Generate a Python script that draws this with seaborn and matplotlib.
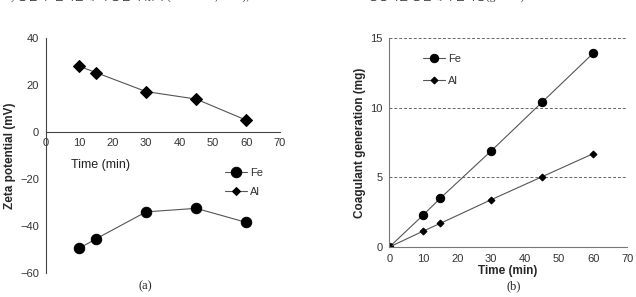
import matplotlib
matplotlib.use('Agg')
import matplotlib.pyplot as plt
import seaborn as sns
import numpy as np

# (a) zeta potential
zeta_time = [10, 15, 30, 45, 60]
zeta_fe = [-49.5, -45.5, -34, -32.5, -38.5]
zeta_al = [28, 25.3, 17.2, 14, 5]

# (b) coagulant generation
gen_time = [0, 10, 15, 30, 45, 60]
gen_fe = [0, 2.3, 3.5, 6.9, 10.4, 13.9]
gen_al = [0, 1.15, 1.7, 3.4, 5.05, 6.7]

sns.set_theme(style='white')
plt.rcParams['font.family'] = ['Liberation Sans', 'Noto Sans CJK KR', 'DejaVu Sans']

fig = plt.figure(figsize=(6.36, 2.97), dpi=100)
ax1 = fig.add_axes([0.072, 0.081, 0.368, 0.791])
ax2 = fig.add_axes([0.612, 0.168, 0.374, 0.704])

lc = '#555555'

# ---- panel (a)
sns.lineplot(x=zeta_time, y=zeta_fe, ax=ax1, color=lc, lw=0.8, marker='o',
             markersize=7.5, markerfacecolor='black', markeredgecolor='black', label='Fe')
sns.lineplot(x=zeta_time, y=zeta_al, ax=ax1, color=lc, lw=0.8, marker='D',
             markersize=6.5, markerfacecolor='black', markeredgecolor='black', label='Al')
ax1.set_xlim(0, 70)
ax1.set_ylim(-60, 40)
ax1.set_xticks(np.arange(0, 71, 10))
ax1.set_yticks(np.arange(-60, 41, 20))
ax1.set_yticklabels(['\u221260', '\u221240', '\u221220', '0', '20', '40'])
for s in ['top', 'right']:
    ax1.spines[s].set_visible(False)
ax1.spines['bottom'].set_position(('data', 0))
for s in ['left', 'bottom']:
    ax1.spines[s].set_color('#444444')
    ax1.spines[s].set_linewidth(0.8)
ax1.tick_params(axis='both', labelsize=8, colors='#333333', length=3, width=0.7,
                direction='out', pad=2)
ax1.tick_params(axis='x', direction='inout', length=4)
ax1.set_ylabel('Zeta potential (mV)', fontsize=8.5, fontweight='bold', labelpad=3)
ax1.text(7.5, -14, 'Time (min)', fontsize=9, color='#222222', va='center')
leg1 = ax1.legend(loc='upper left', bbox_to_anchor=(0.765, 0.448), frameon=False,
                  fontsize=8, handlelength=2.0, labelspacing=0.85, borderaxespad=0,
                  borderpad=0, handletextpad=0.3)
leg1.legend_handles[1].set_markersize(4)
for t in leg1.get_texts():
    t.set_color('#333333')

# ---- panel (b)
for y in [5, 10, 15]:
    ax2.axhline(y, color='#666666', lw=0.7, ls=(0, (3, 2)), zorder=0)
sns.lineplot(x=gen_time, y=gen_fe, ax=ax2, color=lc, lw=0.8, marker='o',
             markersize=6, markerfacecolor='black', markeredgecolor='black', label='Fe')
sns.lineplot(x=gen_time, y=gen_al, ax=ax2, color=lc, lw=0.8, marker='D',
             markersize=3.5, markerfacecolor='black', markeredgecolor='black', label='Al')
ax2.set_xlim(0, 70)
ax2.set_ylim(0, 15)
ax2.set_xticks(np.arange(0, 71, 10))
ax2.set_yticks([0, 5, 10, 15])
for s in ['top', 'right']:
    ax2.spines[s].set_visible(False)
for s in ['left', 'bottom']:
    ax2.spines[s].set_color('#777777')
    ax2.spines[s].set_linewidth(0.8)
ax2.tick_params(axis='both', labelsize=8, colors='#333333', length=3, width=0.7,
                direction='out', pad=2)
ax2.set_xlabel('Time (min)', fontsize=8.5, fontweight='bold', labelpad=1)
ax2.set_ylabel('Coagulant generation (mg)', fontsize=8.5, fontweight='bold', labelpad=3)
leg2 = ax2.legend(loc='upper left', bbox_to_anchor=(0.14, 0.925), frameon=False,
                  fontsize=8, handlelength=2.0, labelspacing=1.1, borderaxespad=0,
                  borderpad=0, handletextpad=0.3)
for t in leg2.get_texts():
    t.set_color('#333333')

# captions
fig.text(0.228, 0.025, '(a)', fontsize=9, family='Liberation Serif', ha='center')
fig.text(0.807, 0.025, '(b)', fontsize=9, family='Liberation Serif', ha='center')

# clipped running text from the page above
fig.text(0.0, 1.012, '34) 응집 후 전기분해 시 응집이 있다 (Kim et al., 2010),', fontsize=8,
         color='#333333', va='center', family=['Liberation Serif', 'Noto Sans CJK KR'])
fig.text(0.545, 1.012, 'M    생성되는 응집제의 분자량(g/mole)', fontsize=8,
         color='#333333', va='center', family=['Liberation Serif', 'Noto Sans CJK KR'])

fig.savefig('out.png', dpi=100)
